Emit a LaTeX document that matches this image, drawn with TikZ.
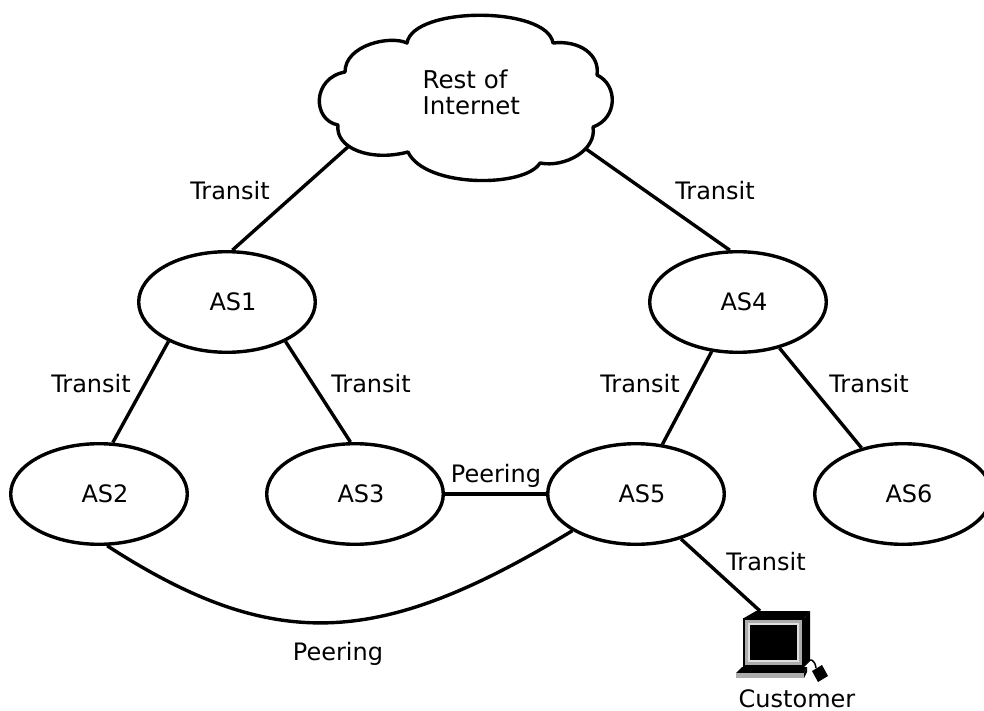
\documentclass[tikz,border=0pt]{standalone}
\usepackage{fontspec}
\setmainfont{DejaVu Sans}
\usetikzlibrary{shapes.geometric}
\begin{document}
\begin{tikzpicture}[x=1pt,y=-1pt,line width=3.4pt,
  asnode/.style={draw, ellipse, line width=3.4pt, minimum width=176.6pt, minimum height=100.6pt, inner sep=0pt, font=\fontsize{24}{26}\selectfont},
  lbl/.style={anchor=base, inner sep=0pt, font=\fontsize{24}{26}\selectfont},
  link/.style={line width=3.4pt, line cap=butt}]
\useasboundingbox (0,0) rectangle (984,711);

% cloud outline
\draw[line width=3.4pt, fill=white, line join=round]
  (407,43) .. controls (413,6) and (547,6) .. (553,43)
  .. controls (580,40) and (600,55) .. (597,75)
  .. controls (618,85) and (618,118) .. (593,127)
  .. controls (597,150) and (565,168) .. (540,163)
  .. controls (525,188) and (425,188) .. (408,152)
  .. controls (370,162) and (335,148) .. (338,125)
  .. controls (312,120) and (312,78) .. (345,72)
  .. controls (345,45) and (390,35) .. (407,43) -- cycle;
\node[anchor=north west, align=left, inner sep=0pt, font=\fontsize{24.5}{26}\selectfont] (cloud) at (421,68.5) {Rest of\\Internet};
\coordinate (cloudSW) at (349,146);
\coordinate (cloudSE) at (586,149);

% AS nodes
\node[asnode] (as1) at (227,302) {\hspace*{12pt}AS1};
\node[asnode] (as2) at (99,494) {\hspace*{12pt}AS2};
\node[asnode] (as3) at (355,494) {\hspace*{12pt}AS3};
\node[asnode] (as4) at (738,302) {\hspace*{12pt}AS4};
\node[asnode] (as5) at (636,494) {\hspace*{12pt}AS5};
\node[asnode] (as6) at (903,494) {\hspace*{12pt}AS6};

% customer computer
\coordinate (custtop) at (760,611);
\fill (744,618) -- (756,611) -- (810,611) -- (804,618) -- cycle;
\fill (804,618) -- (810,611) -- (810,661) -- (804,667) -- cycle;
\fill (743,618) rectangle (804,667);
\fill[gray!65] (745,620) rectangle (802,665);
\fill[gray!25] (748,623) rectangle (799,662);
\fill (750,625) rectangle (797,660);
\fill (742,667) -- (807,667) -- (804,673) -- (736,673) -- cycle;
\fill[gray!65] (736,673) rectangle (804,678);
\fill (804,673) -- (807,667) -- (807,672) -- (804,678) -- cycle;
\draw[line width=1.5pt] (806,663) .. controls (810,657) and (815,660) .. (816,668);
\fill (812,671) -- (822,665) -- (828,676) -- (818,682) -- cycle;

% connectors
\draw[link] (cloudSW) -- (as1.84);
\draw[link] (cloudSE) -- (as4.99);
\draw[link] (as1.214) -- (as2.75);
\draw[link] (as1.326) -- (as3.95);
\draw[link] (as4.242) -- (as5.62);
\draw[link] (as4.312) -- (as6.132);
\draw[link] (as3.east) -- (as5.west);
\draw[link] (as5.315) -- (custtop);
\draw[link] (as2.279) .. controls +(170,110) and +(-190,115) .. (as5.210);

% labels
\node[lbl] (t1) at (230,200) {Transit};
\node[lbl] (t2) at (715,200) {Transit};
\node[lbl] (t3) at (91,392) {Transit};
\node[lbl] (t4) at (371,392) {Transit};
\node[lbl] (t5) at (640,392) {Transit};
\node[lbl] (t6) at (869,392) {Transit};
\node[lbl] (p1) at (496,482) {Peering};
\node[lbl] (t7) at (766,570) {Transit};
\node[lbl] (p2) at (338,660) {Peering};
\node[lbl] (cust) at (797,707) {Customer};
\end{tikzpicture}
\end{document}
